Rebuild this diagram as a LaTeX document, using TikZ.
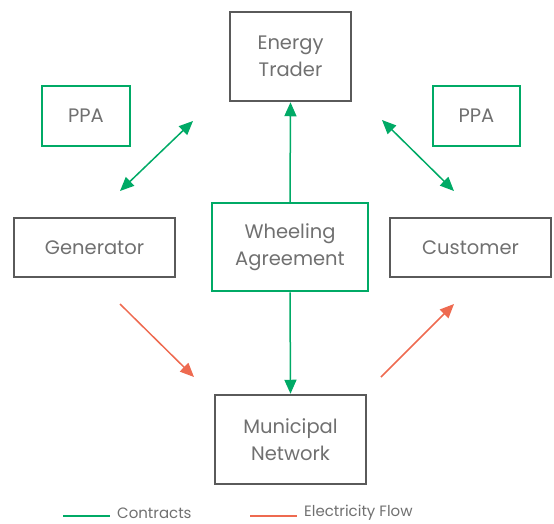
\documentclass[tikz,border=0pt]{standalone}
\usepackage{fontspec}
\setmainfont{Poppins}
\usetikzlibrary{arrows.meta}
\definecolor{cgreen}{HTML}{00AA66}
\definecolor{corange}{HTML}{EE6A50}
\definecolor{cgray}{HTML}{5A5A5A}
\definecolor{ctext}{HTML}{707070}
\tikzset{
  box/.style={draw=cgray, line width=2.5pt, text=ctext, align=center, font=\fontsize{19.5}{27}\selectfont, inner sep=0pt},
  gbox/.style={box, draw=cgreen},
  contract/.style={draw=cgreen, line width=1.5pt},
  flow/.style={draw=corange, line width=1.5pt},
  tip/.style={-{Triangle[length=14pt,width=12pt]}},
  dtip/.style={{Triangle[length=14pt,width=12pt]}-{Triangle[length=14pt,width=12pt]}},
  legend/.style={anchor=west, text=ctext, font=\fontsize{15}{16}\selectfont, inner sep=0pt},
}
\begin{document}
\begin{tikzpicture}[x=1pt,y=-1pt]
\useasboundingbox (0,0) rectangle (554,523);
\node[box, minimum width=121pt, minimum height=89pt] (trader) at (290.5,56.5) {Energy\\Trader};
\node[gbox, minimum width=156pt, minimum height=88pt] (wheel) at (290,247) {Wheeling\\Agreement};
\node[box, minimum width=161pt, minimum height=59pt] (gen) at (94.5,247.5) {Generator};
\node[box, minimum width=161pt, minimum height=59pt] (cust) at (470.5,247.5) {Customer};
\node[gbox, minimum width=88pt, minimum height=60pt] (ppal) at (86,116) {PPA};
\node[gbox, minimum width=87pt, minimum height=60pt] (ppar) at (476.5,116) {PPA};
\node[box, minimum width=151pt, minimum height=89pt] (muni) at (290.5,439.5) {Municipal\\Network};
\coordinate (a1) at (193,121);
\coordinate (a2) at (120,191);
\coordinate (b1) at (382,120);
\coordinate (b2) at (454,191);
\coordinate (c1) at (120,304);
\coordinate (c2) at (194,377);
\coordinate (d1) at (381,377);
\coordinate (d2) at (454,304);
\draw[contract, tip] (wheel.north) -- (trader.south);
\draw[contract, tip] (wheel.south) -- (muni.north);
\draw[contract, dtip] (a1) -- (a2);
\draw[contract, dtip] (b1) -- (b2);
\draw[flow, tip] (c1) -- (c2);
\draw[flow, tip] (d1) -- (d2);
\coordinate (l1) at (63,516);
\coordinate (l2) at (110,516);
\coordinate (l3) at (250,516);
\coordinate (l4) at (297,516);
\draw[contract, line width=2.5pt] (l1) -- (l2);
\draw[flow, line width=2.5pt] (l3) -- (l4);
\node[legend] (lc) at (117,513) {Contracts};
\node[legend] (le) at (304,513) {Electricity Flow};
\end{tikzpicture}
\end{document}
